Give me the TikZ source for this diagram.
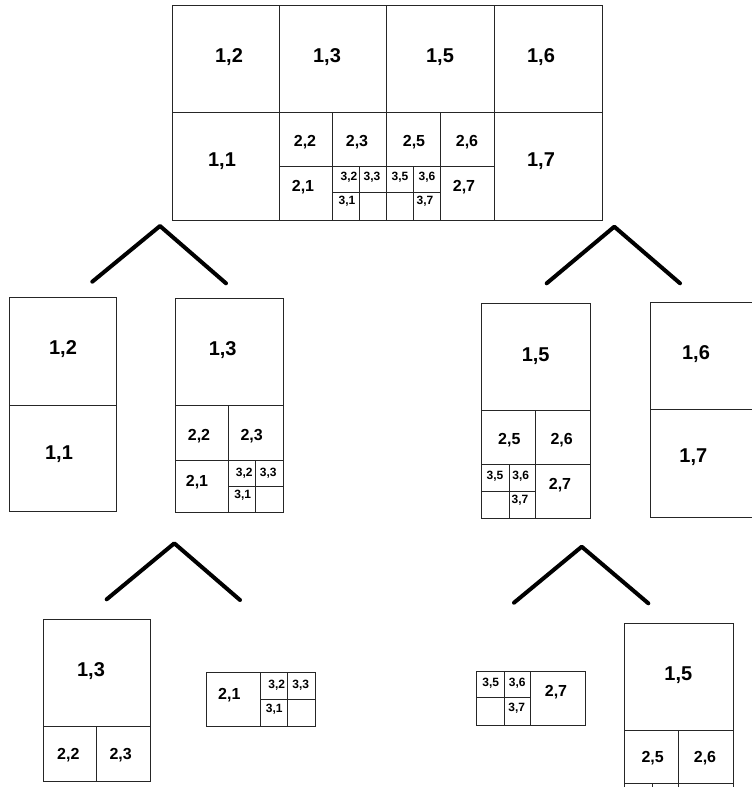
\documentclass[tikz,border=0pt]{standalone}
\usepackage{fontspec}
\setmainfont{Liberation Sans}
\begin{document}
\begin{tikzpicture}[x=1pt,y=-1pt,
  grid/.style={draw=black!85,line width=1pt},
  chev/.style={draw=black,line width=4pt,line cap=round,line join=round},
  lab/.style={inner sep=0pt,text depth=0pt,anchor=center},
  big/.style={lab,text height=14.3pt,font=\fontsize{20}{24}\selectfont\bfseries},
  mid/.style={lab,text height=11.5pt,font=\fontsize{16}{19}\selectfont\bfseries},
  sml/.style={lab,text height=8.6pt,font=\fontsize{12}{14}\selectfont\bfseries}]
\clip (0,0) rectangle (752,787);
\fill[white] (0,0) rectangle (752,787);
% ---------- top figure ----------
\draw[grid] (172,5) rectangle (602,220);
\draw[grid] (172,112) -- (602,112);
\draw[grid] (279.3,5) -- (279.3,220) (386.7,5) -- (386.7,220) (494.3,5) -- (494.3,220);
\draw[grid] (279.3,166.7) -- (494.3,166.7);
\draw[grid] (332.7,112) -- (332.7,220) (440.7,112) -- (440.7,220);
\draw[grid] (359.7,166.7) -- (359.7,220) (413.7,166.7) -- (413.7,220);
\draw[grid] (332.7,192.7) -- (440.7,192.7);
\node[big] (t12) at (229,55.5) {1,2};
\node[big] (t13) at (327,55.5) {1,3};
\node[big] (t15) at (440,55.5) {1,5};
\node[big] (t16) at (541,55.5) {1,6};
\node[big] (t11) at (222,159) {1,1};
\node[big] (t17) at (541,159) {1,7};
\node[mid] (t22) at (305,140.5) {2,2};
\node[mid] (t23) at (357,140.5) {2,3};
\node[mid] (t25) at (414,140.5) {2,5};
\node[mid] (t26) at (467,140.5) {2,6};
\node[mid] (t21) at (303,186) {2,1};
\node[mid] (t27) at (464,186) {2,7};
\node[sml] (t32) at (349,176.5) {3,2};
\node[sml] (t33) at (372,176.5) {3,3};
\node[sml] (t35) at (400,176.5) {3,5};
\node[sml] (t36) at (427,176.5) {3,6};
\node[sml] (t31) at (347,200.5) {3,1};
\node[sml] (t37) at (425,200.5) {3,7};
% ---------- chevrons ----------
\draw[chev] (92.3,281.7) -- (160,226) -- (226,283.3);
\draw[chev] (546.7,283.3) -- (614.3,226.7) -- (680,283.3);
\draw[chev] (106.7,599.3) -- (174.3,543.3) -- (240,600);
\draw[chev] (514,602.7) -- (581.7,546.7) -- (648.3,603.3);
% ---------- middle left ----------
\draw[grid] (9.3,297.3) rectangle (116.7,511.7);
\draw[grid] (9.3,405) -- (116.7,405);
\node[big] (a12) at (63,347.3) {1,2};
\node[big] (a11) at (59,452) {1,1};
\draw[grid] (175,298.3) rectangle (283.3,512.7);
\draw[grid] (175,405.7) -- (283.3,405.7);
\draw[grid] (175,460) -- (283.3,460);
\draw[grid] (228.3,405.7) -- (228.3,512.7) (255.7,460) -- (255.7,512.7);
\draw[grid] (228.3,486) -- (283.3,486);
\node[big] (b13) at (222.7,348.3) {1,3};
\node[mid] (b22) at (199,434.3) {2,2};
\node[mid] (b23) at (251.7,434.3) {2,3};
\node[mid] (b21) at (197,481) {2,1};
\node[sml] (b32) at (244.3,471.7) {3,2};
\node[sml] (b33) at (268.3,471.7) {3,3};
\node[sml] (b31) at (242.7,494) {3,1};
% ---------- middle right ----------
\draw[grid] (481.7,303.3) rectangle (590,518.3);
\draw[grid] (481.7,410) -- (590,410);
\draw[grid] (481.7,464.3) -- (590,464.3);
\draw[grid] (535.7,410) -- (535.7,518.3) (509.3,464.3) -- (509.3,518.3);
\draw[grid] (481.7,491) -- (535.7,491);
\node[big] (c15) at (535.7,354) {1,5};
\node[mid] (c25) at (509.3,438.3) {2,5};
\node[mid] (c26) at (561.7,438.3) {2,6};
\node[sml] (c35) at (495,475) {3,5};
\node[sml] (c36) at (520.7,475) {3,6};
\node[sml] (c37) at (520,499.3) {3,7};
\node[mid] (c27) at (560,484) {2,7};
\draw[grid] (650,302.3) rectangle (757,517.7);
\draw[grid] (650,409) -- (757,409);
\node[big] (d16) at (696,352.7) {1,6};
\node[big] (d17) at (693.3,455.7) {1,7};
% ---------- bottom left ----------
\draw[grid] (43.3,619) rectangle (150.7,781.7);
\draw[grid] (43.3,726.7) -- (150.7,726.7);
\draw[grid] (96.7,726.7) -- (96.7,781.7);
\node[big] (e13) at (91,669.3) {1,3};
\node[mid] (e22) at (68.3,754) {2,2};
\node[mid] (e23) at (120.7,754) {2,3};
\draw[grid] (206,672.3) rectangle (315,726);
\draw[grid] (260.7,672.3) -- (260.7,726) (287.7,672.3) -- (287.7,726);
\draw[grid] (260.7,699.3) -- (315,699.3);
\node[mid] (f21) at (229.3,693.3) {2,1};
\node[sml] (f32) at (276.7,684) {3,2};
\node[sml] (f33) at (300.7,684) {3,3};
\node[sml] (f31) at (274.3,708.3) {3,1};
% ---------- bottom right ----------
\draw[grid] (476.7,671) rectangle (585,725);
\draw[grid] (504.3,671) -- (504.3,725) (530.7,671) -- (530.7,725);
\draw[grid] (476.7,697.7) -- (530.7,697.7);
\node[sml] (g35) at (490.7,681.7) {3,5};
\node[sml] (g36) at (517.3,681.7) {3,6};
\node[sml] (g37) at (516.7,707.3) {3,7};
\node[mid] (g27) at (556,691) {2,7};
\draw[grid] (624.3,623.3) rectangle (733.3,783.3);
\draw[grid] (624.3,730) -- (733.3,730);
\draw[grid] (678.3,730) -- (678.3,783.3);
\draw[grid] (624.3,783.3) -- (624.3,790) (652.7,783.3) -- (652.7,790)
  (678.3,783.3) -- (678.3,790) (733.3,783.3) -- (733.3,790);
\node[big] (h15) at (678.3,673.3) {1,5};
\node[mid] (h25) at (652.7,756.7) {2,5};
\node[mid] (h26) at (705,757) {2,6};
\end{tikzpicture}
\end{document}
